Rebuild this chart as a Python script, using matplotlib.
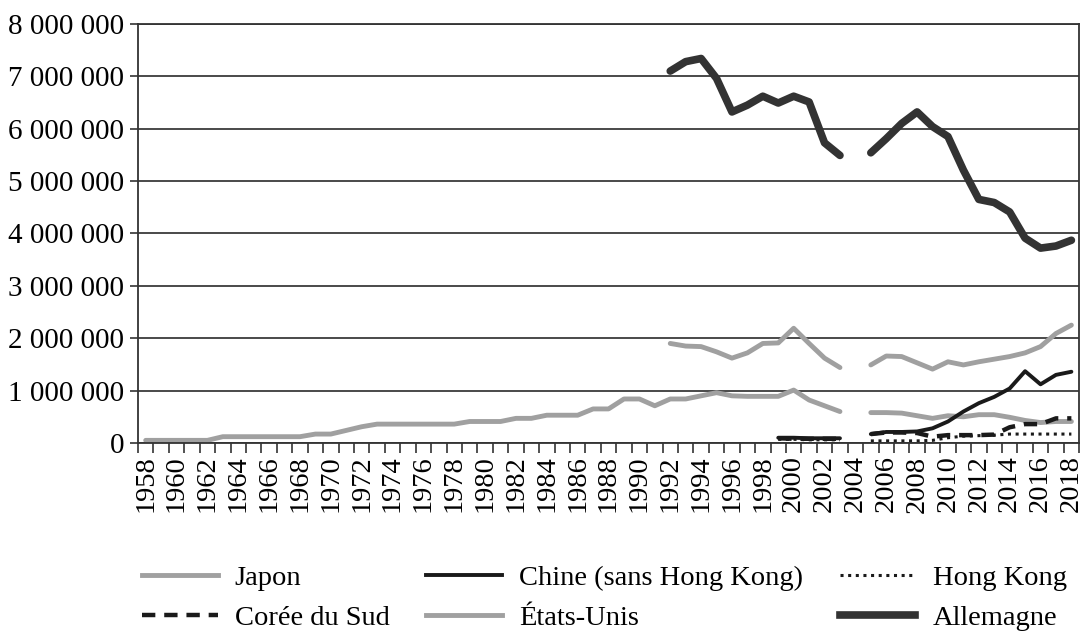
import numpy as np
import matplotlib
matplotlib.use("Agg")
import matplotlib.pyplot as plt
from matplotlib.lines import Line2D

plt.rcParams['font.family'] = ['Liberation Serif', 'DejaVu Serif']

years = list(range(1958, 2019))
nan = np.nan

# valeurs (tonnes)
japon = [50e3, 50e3, 50e3, 50e3, 50e3, 120e3, 120e3, 120e3, 120e3, 120e3,
         120e3, 170e3, 170e3, 240e3, 310e3, 360e3, 360e3, 360e3, 360e3, 360e3,
         360e3, 410e3, 410e3, 410e3, 470e3, 470e3, 530e3, 530e3, 530e3, 650e3,
         650e3, 840e3, 840e3, 710e3, 840e3, 840e3, 900e3, 960e3, 900e3, 890e3,
         890e3, 890e3, 1010e3, 820e3, 710e3, 600e3, nan, 580e3, 580e3, 570e3,
         520e3, 470e3, 520e3, 500e3, 540e3, 540e3, 490e3, 430e3, 390e3, 410e3,
         410e3]
chine = [nan] * 41 + [100e3, 100e3, 90e3, 90e3, 90e3, nan,
                      170e3, 210e3, 210e3, 220e3, 280e3, 410e3, 600e3, 760e3,
                      880e3, 1040e3, 1370e3, 1120e3, 1300e3, 1360e3]
hong_kong = [nan] * 41 + [70e3, 70e3, 60e3, 60e3, 60e3, nan,
                          40e3, 40e3, 40e3, 40e3, 50e3, 100e3, 130e3, 140e3,
                          150e3, 170e3, 170e3, 170e3, 170e3, 170e3]
coree = [nan] * 41 + [90e3, 80e3, 80e3, 80e3, 80e3, nan,
                      170e3, 200e3, 200e3, 190e3, 120e3, 150e3, 150e3, 150e3,
                      160e3, 300e3, 360e3, 360e3, 470e3, 470e3]
etats_unis = [nan] * 34 + [1900e3, 1850e3, 1840e3, 1740e3, 1620e3, 1720e3,
                           1900e3, 1910e3, 2190e3, 1900e3, 1620e3, 1440e3, nan,
                           1490e3, 1660e3, 1650e3, 1530e3, 1410e3, 1550e3,
                           1490e3, 1550e3, 1600e3, 1650e3, 1720e3, 1840e3,
                           2090e3, 2250e3]
allemagne = [nan] * 34 + [7100e3, 7280e3, 7340e3, 6960e3, 6320e3, 6450e3,
                          6620e3, 6490e3, 6620e3, 6510e3, 5730e3, 5490e3, nan,
                          5540e3, 5810e3, 6100e3, 6320e3, 6040e3, 5850e3,
                          5210e3, 4650e3, 4590e3, 4410e3, 3910e3, 3720e3,
                          3760e3, 3870e3]

fig = plt.figure(figsize=(10.83, 6.33), dpi=100)
ax = fig.add_axes([0.1274, 0.3002, 0.869, 0.662])

x = np.arange(len(years))
styles = {
    'Japon': dict(color='#a0a0a0', lw=3.5, ls='-'),
    'Chine (sans Hong Kong)': dict(color='#1a1a1a', lw=2.8, ls='-'),
    'Hong Kong': dict(color='#1a1a1a', lw=2.2, ls=(0, (1, 1.5))),
    'Corée du Sud': dict(color='#1a1a1a', lw=3.2, ls=(0, (3, 2))),
    'États-Unis': dict(color='#a0a0a0', lw=3.5, ls='-'),
    'Allemagne': dict(color='#333333', lw=5.5, ls='-'),
}
series = {
    'Japon': japon,
    'Chine (sans Hong Kong)': chine,
    'Hong Kong': hong_kong,
    'Corée du Sud': coree,
    'États-Unis': etats_unis,
    'Allemagne': allemagne,
}
for name, vals in series.items():
    st = styles[name]
    ax.plot(x, vals, color=st['color'], lw=st['lw'], ls=st['ls'],
            solid_capstyle='round', solid_joinstyle='round')

ax.set_xlim(-0.5, len(years) - 0.5)
ax.set_ylim(0, 8e6)
ax.set_yticks(np.arange(0, 8e6 + 1, 1e6))
ax.set_yticklabels(['{:,}'.format(int(v)).replace(',', ' ') for v in np.arange(0, 8e6 + 1, 1e6)],
                   fontsize=21)
ax.yaxis.grid(True, color='#3a3a3a', lw=1.3)
ax.set_axisbelow(True)
ax.tick_params(axis='y', length=6, width=1.2, color='#333333', pad=4)

ax.set_xticks(x[::2])
ax.set_xticklabels([str(y) for y in years[::2]], rotation=90, fontsize=20.5)
ax.set_xticks(np.arange(-0.5, len(years)), minor=True)
ax.tick_params(axis='x', which='major', length=0, pad=9)
ax.tick_params(axis='x', which='minor', length=7, width=1.2, color='#333333')

for s in ax.spines.values():
    s.set_color('#333333')
    s.set_linewidth(1.3)

order = ['Japon', 'Corée du Sud', 'Chine (sans Hong Kong)', 'États-Unis',
         'Hong Kong', 'Allemagne']
handles = [Line2D([], [], color=styles[n]['color'], lw=styles[n]['lw'],
                  ls=styles[n]['ls']) for n in order]
fig.legend(handles, order, ncol=3, loc='lower center',
           bbox_to_anchor=(0.558, -0.038), frameon=False, fontsize=20.5,
           handlelength=2.65, handletextpad=0.6, columnspacing=1.3,
           labelspacing=0.5)

fig.savefig('out.png', dpi=100)
